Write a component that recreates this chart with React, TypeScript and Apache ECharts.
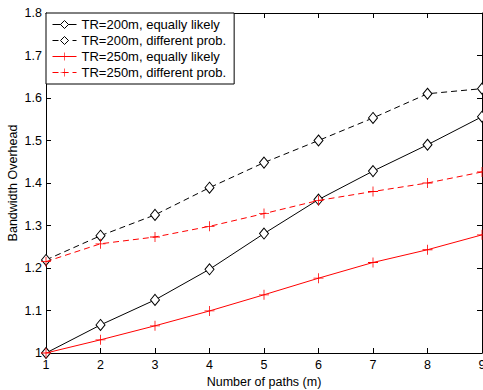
import React, { useEffect, useRef } from "react";
import * as echarts from "echarts";

const paths = [1, 2, 3, 4, 5, 6, 7, 8, 9];
const tr200Equal = [1.0, 1.066, 1.125, 1.197, 1.281, 1.361, 1.428, 1.49, 1.556];
const tr200Diff = [1.219, 1.276, 1.325, 1.389, 1.448, 1.5, 1.553, 1.61, 1.622];
const tr250Equal = [1.0, 1.031, 1.064, 1.099, 1.137, 1.176, 1.213, 1.243, 1.278];
const tr250Diff = [1.215, 1.257, 1.273, 1.298, 1.328, 1.359, 1.38, 1.4, 1.426];
const seriesNames = [
  "TR=200m, equally likely",
  "TR=200m, different prob.",
  "TR=250m, equally likely",
  "TR=250m, different prob.",
];

const FONT = "Liberation Sans, Arial, Helvetica, sans-serif";
const PLUS = "path://M4.6,0h0.8v4.6h4.6v0.8h-4.6v4.6h-0.8v-4.6h-4.6v-0.8h4.6z";

const pairs = (ys: number[]) => paths.map((x, i) => [x, ys[i]]);

export default function App() {
  const ref = useRef<HTMLDivElement>(null);
  useEffect(() => {
    if (!ref.current) return;
    const chart = echarts.init(ref.current, undefined, { renderer: "svg" });
    const axisCommon = {
      axisLine: { onZero: false, lineStyle: { color: "#000", width: 1 } },
      axisTick: { inside: true, length: 5, lineStyle: { color: "#000" } },
      splitLine: { show: false },
    };
    const diamondSeries = (name: string, ys: number[], dashed: boolean) => ({
      name,
      type: "line",
      data: pairs(ys),
      symbol: "diamond",
      symbolSize: [9, 11],
      lineStyle: { color: "#000", width: 1, type: dashed ? [6, 4] : "solid" },
      itemStyle: { color: "#fff", borderColor: "#000", borderWidth: 1 },
      z: 3,
    });
    const plusSeries = (name: string, ys: number[], dashed: boolean) => ({
      name,
      type: "line",
      data: pairs(ys),
      symbol: PLUS,
      symbolSize: 10,
      lineStyle: { color: "#f00", width: 1, type: dashed ? [6, 4] : "solid" },
      itemStyle: { color: "#f00", borderWidth: 0 },
      z: 4,
    });
    chart.setOption({
      animation: false,
      backgroundColor: "#fff",
      grid: { left: 46, right: 1, top: 13, bottom: 37, containLabel: false, outerBoundsMode: "none" },
      legend: {
        orient: "vertical",
        left: 46,
        top: 13,
        itemWidth: 24,
        itemHeight: 10,
        itemGap: 3,
        padding: [5, 8, 5, 6],
        borderColor: "#000",
        borderWidth: 1,
        borderRadius: 0,
        backgroundColor: "#fff",
        lineStyle: { width: 1 },
        itemStyle: { borderWidth: 1 },
        textStyle: { fontSize: 13, fontFamily: FONT, color: "#000" },
        data: seriesNames,
        z: 10,
      },
      xAxis: [
        {
          type: "value",
          min: 1,
          max: 9,
          interval: 1,
          position: "bottom",
          ...axisCommon,
          axisLabel: { color: "#000", fontSize: 12.5, fontFamily: FONT, margin: 5 },
          name: "Number of paths (m)",
          nameLocation: "middle",
          nameGap: 22,
          nameMoveOverlap: false,
          nameTextStyle: { color: "#000", fontSize: 12.5, fontFamily: FONT },
        },
        {
          type: "value",
          min: 1,
          max: 9,
          interval: 1,
          position: "top",
          ...axisCommon,
          axisLabel: { show: false },
        },
      ],
      yAxis: [
        {
          type: "value",
          min: 1,
          max: 1.8,
          interval: 0.1,
          position: "left",
          ...axisCommon,
          axisLabel: {
            color: "#000",
            fontSize: 12.5,
            fontFamily: FONT,
            margin: 4,
            formatter: (v: number) => String(Math.round(v * 10) / 10),
          },
          name: "Bandwidth Overhead",
          nameLocation: "middle",
          nameGap: 27,
          nameMoveOverlap: false,
          nameTextStyle: { color: "#000", fontSize: 12.5, fontFamily: FONT },
        },
        {
          type: "value",
          min: 1,
          max: 1.8,
          interval: 0.1,
          position: "right",
          ...axisCommon,
          axisLabel: { show: false },
        },
      ],
      series: [
        diamondSeries(seriesNames[0], tr200Equal, false),
        diamondSeries(seriesNames[1], tr200Diff, true),
        plusSeries(seriesNames[2], tr250Equal, false),
        plusSeries(seriesNames[3], tr250Diff, true),
      ],
    });
    return () => chart.dispose();
  }, []);
  return <div ref={ref} style={{ width: 483, height: 390, position: "absolute", left: 0, top: 0 }} />;
}
